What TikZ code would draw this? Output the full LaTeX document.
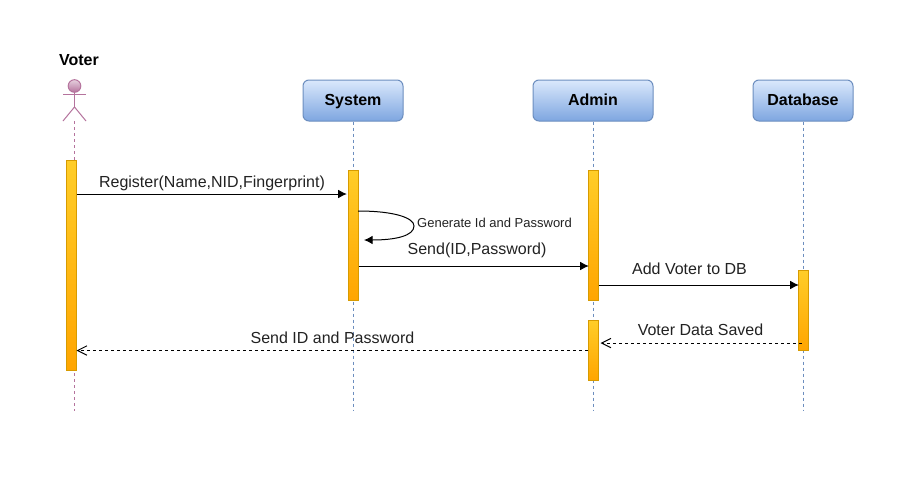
\documentclass[tikz,border=0pt]{standalone}
\usepackage{fontspec}
\setmainfont{Liberation Sans}
\usetikzlibrary{arrows.meta,shapes.geometric}
\definecolor{headtop}{HTML}{DAE8FC}
\definecolor{headbot}{HTML}{7EA6E0}
\definecolor{headline}{HTML}{6C8EBF}
\definecolor{bartop}{HTML}{FFCD28}
\definecolor{barbot}{HTML}{FFA500}
\definecolor{barline}{HTML}{D79B00}
\definecolor{actline}{HTML}{B5739D}
\definecolor{acttop}{HTML}{E6D0DE}
\definecolor{txt}{HTML}{222222}
\tikzset{
  x=0.75pt,y=-0.75pt,
  headbox/.style={draw=headline,line width=0.75pt,rounded corners=4.5pt,top color=headtop,bottom color=headbot,
    minimum height=30.75pt,inner sep=0pt,text height=9.6pt,text depth=1.5pt,font=\fontsize{12}{14}\selectfont\bfseries,text=black},
  activebar/.style={draw=barline,line width=0.75pt,top color=bartop,bottom color=barbot,minimum width=7.5pt,inner sep=0pt},
  lifeblue/.style={draw=headline,line width=0.75pt,dash pattern=on 2.25pt off 2.25pt},
  lifepink/.style={draw=actline,line width=0.75pt,dash pattern=on 2.25pt off 2.25pt},
  msg/.style={draw=black,line width=0.75pt,-{Latex[length=6.5pt,width=6.5pt]}},
  reply/.style={draw=black,line width=0.75pt,dash pattern=on 2.25pt off 2.25pt,-{Straight Barb[length=7pt,width=7pt]}},
  msglabel/.style={inner sep=0pt,text height=9.6pt,text depth=1.5pt,text=txt,font=\fontsize{12}{14}\selectfont},
  smalllabel/.style={inner sep=0pt,text height=8pt,text depth=1pt,text=txt,font=\fontsize{9.75}{12}\selectfont},
}
\begin{document}
\begin{tikzpicture}
\useasboundingbox (0,0) rectangle (900,500);
\fill[white] (0,0) rectangle (900,500);
% heads
\node[headbox,minimum width=75pt] (sys) at (353,100.5) {System};
\node[headbox,minimum width=90pt] (adm) at (593,100.5) {Admin};
\node[headbox,minimum width=75pt] (dbs) at (803,100.5) {Database};
% actor
\node[inner sep=0pt,text height=9.6pt,text depth=1.5pt,font=\fontsize{12}{14}\selectfont\bfseries] (voter) at (79,60.5) {Voter};
\node[circle,draw=actline,line width=0.75pt,top color=acttop,bottom color=actline,minimum size=9.5pt,inner sep=0pt] (vhead) at (74.5,86) {};
\coordinate (vhip) at (74.5,107);
\coordinate (vfoot) at (74.5,121);
\draw[actline,line width=0.75pt] (vhead.south) -- (vhip);
\draw[actline,line width=0.75pt] (63,94) -- (86,94);
\draw[actline,line width=0.75pt] (63,121) -- (vhip) -- (86,121);
% lifeline ends
\coordinate (vend) at (74.5,411);
\coordinate (send) at (353,411);
\coordinate (aend) at (593,411);
\coordinate (dend) at (803,411);
\draw[lifepink] (vfoot) -- (vend);
\draw[lifeblue] (sys.south) -- (send);
\draw[lifeblue] (adm.south) -- (aend);
\draw[lifeblue] (dbs.south) -- (dend);
% bars
\node[activebar,minimum height=157.5pt] (vb) at (71,265.5) {};
\node[activebar,minimum height=97.5pt] (sb) at (353,235.5) {};
\node[activebar,minimum height=97.5pt] (ab1) at (593,235.5) {};
\node[activebar,minimum height=45pt] (ab2) at (593,350.5) {};
\node[activebar,minimum height=60pt] (db) at (803,310.5) {};
% messages
\draw[msg,shorten >=0.5pt] (vb.east |- 0,194) -- (sb.west |- 0,194);
\coordinate (ls) at (358,211);
\coordinate (le) at (364,240);
\draw[msg] (ls) .. controls (395,211) and (414,218) .. (414,226) .. controls (414,236) and (395,240) .. (le);
\draw[msg,shorten >=-1pt] (sb.east |- 0,266) -- (ab1.west |- 0,266);
\draw[msg,shorten >=-1pt] (ab1.east |- 0,285) -- (db.west |- 0,285);
\draw[reply,shorten >=1.5pt,shorten <=-3pt] (db.west |- 0,343) -- (ab2.east |- 0,343);
\draw[reply] (ab2.west |- 0,350.5) -- (vb.east |- 0,350.5);
% labels
\node[msglabel] (l1) at (212,182.5) {Register(Name,NID,Fingerprint)};
\node[smalllabel] (l2) at (494.5,222.5) {Generate Id and Password};
\node[msglabel] (l3) at (477,249.5) {Send(ID,Password)};
\node[msglabel] (l4) at (689.5,269.5) {Add Voter to DB};
\node[msglabel] (l5) at (700.5,330.5) {Voter Data Saved};
\node[msglabel] (l6) at (332.5,338.5) {Send ID and Password};
\end{tikzpicture}
\end{document}
